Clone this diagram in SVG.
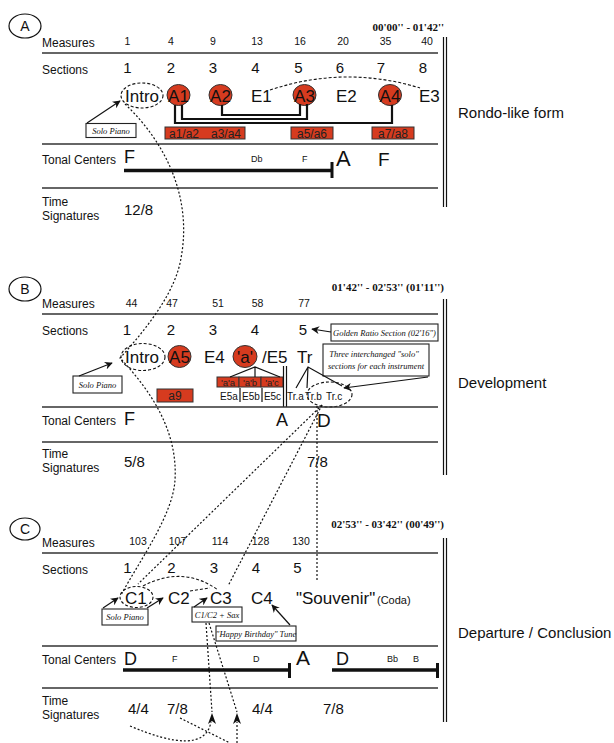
<svg xmlns="http://www.w3.org/2000/svg" width="614" height="743" viewBox="0 0 614 743">
<defs>
<style>
text{font-family:"Liberation Sans",Arial,sans-serif;fill:#111}
.lbl{font-size:12px}
.num{font-size:10.5px;text-anchor:middle}
.sec{font-size:15px;text-anchor:middle}
.row{font-size:17px}
.rowc{font-size:17px;text-anchor:middle}
.ts{font-size:15px}
.sm{font-size:9px}
.tag{font-size:15px}
.time{font-family:"Liberation Serif",serif;font-weight:bold;font-size:11px;text-anchor:end}
.note{font-family:"Liberation Serif",serif;font-style:italic;font-size:8.5px;text-anchor:middle}
.sep{stroke:#333;stroke-width:1.5}
.vd{stroke:#111;stroke-width:1.2}
.circ{fill:#fff;stroke:#111;stroke-width:1.2}
.red{fill:#d63b1f;stroke:#333;stroke-width:1}
.box{fill:#fff;stroke:#222;stroke-width:1.1}
.dot{fill:none;stroke:#111;stroke-width:1.2;stroke-dasharray:2 2}
.dash{fill:none;stroke:#111;stroke-width:1.1;stroke-dasharray:3 2}
.brk{fill:none;stroke:#111;stroke-width:2.2}
.bar{stroke:#111;stroke-width:3.5}
.cap{stroke:#111;stroke-width:3}
.thin{fill:none;stroke:#111;stroke-width:1.2}
.arr{fill:none;stroke:#111;stroke-width:1.2;marker-end:url(#ah)}
.rt{font-size:12px;text-anchor:middle;fill:#222}
.rts{font-size:9.5px;text-anchor:middle;fill:#222}
</style>
<marker id="ah" viewBox="0 0 10 10" refX="9" refY="5" markerWidth="8" markerHeight="8" markerUnits="userSpaceOnUse" orient="auto">
<path d="M0,0 L10,5 L0,10 L3,5 z" fill="#111"/>
</marker>
</defs>
<rect width="614" height="743" fill="#fff"/>

<!-- ============ SECTION A ============ -->
<g id="sectionA">
<g id="A-label"><ellipse cx="25" cy="26" rx="16" ry="12" class="circ"/><text x="25" y="31" font-size="14" text-anchor="middle">A</text></g>
<text class="time" x="444" y="31">00'00'' - 01'42''</text>
<g id="A-measures">
<text class="lbl" x="42" y="47">Measures</text>
<text class="num" x="127.5" y="45">1</text><text class="num" x="171" y="45">4</text><text class="num" x="213" y="45">9</text><text class="num" x="257" y="45">13</text><text class="num" x="300" y="45">16</text><text class="num" x="343" y="45">20</text><text class="num" x="385.5" y="45">35</text><text class="num" x="427" y="45">40</text>
</g>
<line class="sep" x1="42" y1="53" x2="438" y2="53"/>
<g id="A-sections">
<text class="lbl" x="42" y="74">Sections</text>
<text class="sec" x="127.5" y="73">1</text><text class="sec" x="171" y="73">2</text><text class="sec" x="213" y="73">3</text><text class="sec" x="255.5" y="73">4</text><text class="sec" x="298.5" y="73">5</text><text class="sec" x="340" y="73">6</text><text class="sec" x="381" y="73">7</text><text class="sec" x="423" y="73">8</text>
</g>
<g id="A-intro"><ellipse cx="142" cy="95.5" rx="21" ry="12.5" class="dash"/><text class="row" x="125" y="102">Intro</text></g>
<g id="A-A1"><ellipse cx="178.5" cy="95" rx="11.5" ry="10.5" class="red"/><text class="rowc" x="178.5" y="102">A1</text></g>
<g id="A-A2"><ellipse cx="220.5" cy="95" rx="11.5" ry="10.5" class="red"/><text class="rowc" x="220.5" y="102">A2</text></g>
<g id="A-E1"><text class="row" x="251" y="102">E1</text></g>
<g id="A-A3"><ellipse cx="304.5" cy="95" rx="11.5" ry="10.5" class="red"/><text class="rowc" x="304.5" y="102">A3</text></g>
<g id="A-E2"><text class="row" x="336" y="102">E2</text></g>
<g id="A-A4"><ellipse cx="390" cy="95" rx="11.5" ry="10.5" class="red"/><text class="rowc" x="390" y="102">A4</text></g>
<g id="A-E3"><text class="row" x="419" y="102">E3</text></g>
<g id="A-a1a4"><rect class="red" x="165" y="127" width="80" height="12"/><text class="rt" x="184" y="137.5">a1/a2</text><text class="rt" x="226" y="137.5">a3/a4</text></g>
<g id="A-a5a6"><rect class="red" x="291" y="127" width="42" height="12"/><text class="rt" x="312" y="137.5">a5/a6</text></g>
<g id="A-a7a8"><rect class="red" x="372" y="127" width="42" height="12"/><text class="rt" x="393" y="137.5">a7/a8</text></g>
<g id="A-solo"><rect class="box" x="86" y="123.5" width="50" height="14"/><text class="note" x="111" y="133.5">Solo Piano</text></g>
<line class="sep" x1="42" y1="144" x2="438" y2="144"/>
<g id="A-tonal">
<text class="lbl" x="42" y="164">Tonal Centers</text>
<text x="124" y="163" font-size="18">F</text>
<text class="sm" x="251" y="162">Db</text>
<text class="sm" x="302" y="162">F</text>
<text x="336" y="166" font-size="22">A</text>
<text x="378" y="166" font-size="19">F</text>
<line class="bar" x1="124" y1="170.5" x2="333" y2="170.5"/>
<line class="cap" x1="332" y1="162" x2="332" y2="178"/>
</g>
<line class="sep" x1="42" y1="188" x2="438" y2="188"/>
<g id="A-time">
<text class="lbl" x="42" y="206">Time</text><text class="lbl" x="42" y="220">Signatures</text>
<text class="ts" x="124" y="215">12/8</text>
</g>
<line class="vd" x1="443.5" y1="37" x2="443.5" y2="207"/><line class="vd" x1="446.5" y1="37" x2="446.5" y2="207"/>
<text class="tag" x="458" y="118">Rondo-like form</text>
</g>

<!-- ============ SECTION B ============ -->
<g id="sectionB">
<g id="B-label"><ellipse cx="25" cy="289" rx="16" ry="12" class="circ"/><text x="25" y="294" font-size="14" text-anchor="middle">B</text></g>
<text class="time" x="444" y="291">01'42'' - 02'53'' (01'11'')</text>
<g id="B-measures">
<text class="lbl" x="42" y="308">Measures</text>
<text class="num" x="131.5" y="307">44</text><text class="num" x="172" y="307">47</text><text class="num" x="218" y="307">51</text><text class="num" x="257.5" y="307">58</text><text class="num" x="304" y="307">77</text>
</g>
<line class="sep" x1="42" y1="314" x2="438" y2="314"/>
<g id="B-sections">
<text class="lbl" x="42" y="335">Sections</text>
<text class="sec" x="127" y="335">1</text><text class="sec" x="171" y="335">2</text><text class="sec" x="213" y="335">3</text><text class="sec" x="255" y="335">4</text><text class="sec" x="303" y="335">5</text>
</g>
<g id="B-intro"><ellipse cx="143" cy="357" rx="22" ry="13.5" class="dash"/><text class="row" x="125" y="363">Intro</text></g>
<g id="B-A5"><ellipse cx="179.5" cy="356.5" rx="11.5" ry="11" class="red"/><text class="rowc" x="179.5" y="363">A5</text></g>
<g id="B-E4"><text class="row" x="204" y="363">E4</text></g>
<g id="B-a"><ellipse cx="245" cy="356.5" rx="12" ry="11" class="red"/><text class="rowc" x="245" y="363">'a'</text></g>
<g id="B-E5"><text class="row" x="262" y="363">/E5</text></g>
<g id="B-Tr"><text class="row" x="297" y="363">Tr</text></g>
<g id="B-aboxes">
<rect class="red" x="217" y="377" width="22" height="10"/><rect class="red" x="239" y="377" width="22" height="10"/><rect class="red" x="261" y="377" width="22" height="10"/>
<text class="rts" x="228" y="385.5">'a'a</text><text class="rts" x="250" y="385.5">'a'b</text><text class="rts" x="272" y="385.5">'a'c</text>
</g>
<g id="B-E5abc">
<text x="229" y="400" font-size="10" text-anchor="middle">E5a</text><text x="251" y="400" font-size="10" text-anchor="middle">E5b</text><text x="272.5" y="400" font-size="10" text-anchor="middle">E5c</text>
<line class="thin" x1="240" y1="388" x2="240" y2="402"/><line class="thin" x1="262" y1="388" x2="262" y2="402"/>
</g>
<line class="vd" x1="283.5" y1="366" x2="283.5" y2="407"/><line class="vd" x1="286.5" y1="366" x2="286.5" y2="407"/>
<g id="B-Trabc">
<text x="287" y="400" font-size="10">Tr.a</text><text x="305" y="400" font-size="10">Tr.b</text><text x="326" y="400" font-size="10">Tr.c</text>
<ellipse cx="329.5" cy="394.5" rx="22.5" ry="12.5" class="dash"/>
</g>
<g id="B-a9"><rect class="red" x="157" y="389" width="36" height="13"/><text class="rt" x="175" y="399.5">a9</text></g>
<g id="B-solo"><rect class="box" x="73" y="376" width="49" height="17"/><text class="note" x="97.5" y="387.5">Solo Piano</text></g>
<g id="B-golden"><rect class="box" x="331" y="324" width="107" height="17"/><text class="note" x="384.5" y="335.5">Golden Ratio Section (02'16")</text></g>
<g id="B-three"><rect class="box" x="323" y="344" width="106" height="32"/><text class="note" x="374" y="357">Three interchanged "solo"</text><text class="note" x="376" y="369">sections for each instrument</text></g>
<line class="sep" x1="42" y1="407" x2="438" y2="407"/>
<g id="B-tonal">
<text class="lbl" x="42" y="425">Tonal Centers</text>
<text x="124" y="425" font-size="18">F</text>
<text x="276" y="426" font-size="18">A</text>
<text x="317" y="427" font-size="19">D</text>
</g>
<line class="sep" x1="42" y1="442" x2="438" y2="442"/>
<g id="B-time">
<text class="lbl" x="42" y="458">Time</text><text class="lbl" x="42" y="472">Signatures</text>
<text class="ts" x="124" y="467">5/8</text><text class="ts" x="307" y="467">7/8</text>
</g>
<line class="vd" x1="443.5" y1="299" x2="443.5" y2="475"/><line class="vd" x1="446.5" y1="299" x2="446.5" y2="475"/>
<text class="tag" x="458" y="388">Development</text>
</g>

<!-- ============ SECTION C ============ -->
<g id="sectionC">
<g id="C-label"><ellipse cx="25" cy="529" rx="15" ry="11" class="circ"/><text x="25" y="534" font-size="14" text-anchor="middle">C</text></g>
<text class="time" x="444" y="528">02'53'' - 03'42'' (00'49'')</text>
<g id="C-measures">
<text class="lbl" x="42" y="547">Measures</text>
<text class="num" x="138" y="545">103</text><text class="num" x="177.5" y="545">107</text><text class="num" x="220" y="545">114</text><text class="num" x="260.5" y="545">128</text><text class="num" x="301" y="545">130</text>
</g>
<line class="sep" x1="42" y1="553" x2="438" y2="553"/>
<g id="C-sections">
<text class="lbl" x="42" y="574">Sections</text>
<text class="sec" x="127.5" y="573">1</text><text class="sec" x="171.5" y="573">2</text><text class="sec" x="214" y="573">3</text><text class="sec" x="256" y="573">4</text><text class="sec" x="297.5" y="573">5</text>
</g>
<g id="C-C1"><ellipse cx="136.5" cy="597" rx="16.5" ry="10.5" class="dash"/><text class="row" x="125" y="604">C1</text></g>
<g id="C-C2"><text class="row" x="168" y="604">C2</text></g>
<g id="C-C3"><text class="row" x="210" y="604">C3</text></g>
<g id="C-C4"><text class="row" x="251" y="604">C4</text></g>
<g id="C-coda"><text class="row" x="296" y="604">"Souvenir"</text><text x="377" y="604" font-size="11">(Coda)</text></g>
<g id="C-solo"><rect class="box" x="102" y="609" width="46" height="16"/><text class="note" x="125" y="620">Solo Piano</text></g>
<g id="C-sax"><rect class="box" x="192" y="607" width="50" height="15"/><text class="note" x="217" y="618">C1/C2 + Sax</text></g>
<g id="C-happy"><rect class="box" x="216" y="626" width="80" height="15"/><text class="note" x="256" y="636.5">"Happy Birthday" Tune</text></g>
<line class="sep" x1="42" y1="646" x2="438" y2="646"/>
<g id="C-tonal">
<text class="lbl" x="42" y="664">Tonal Centers</text>
<text x="124" y="665" font-size="18">D</text>
<text class="sm" x="172" y="662">F</text>
<text class="sm" x="253" y="662">D</text>
<text x="296" y="665" font-size="21">A</text>
<text x="336" y="665" font-size="18">D</text>
<text class="sm" x="387" y="662">Bb</text>
<text class="sm" x="413" y="662">B</text>
<line class="bar" x1="123" y1="670" x2="290" y2="670"/>
<line class="cap" x1="289.5" y1="663" x2="289.5" y2="678"/>
<line class="bar" x1="332" y1="670" x2="439" y2="670"/>
<line class="cap" x1="437.5" y1="663" x2="437.5" y2="678"/>
</g>
<line class="sep" x1="42" y1="688" x2="438" y2="688"/>
<g id="C-time">
<text class="lbl" x="42" y="705">Time</text><text class="lbl" x="42" y="719">Signatures</text>
<text class="ts" x="128" y="714">4/4</text><text class="ts" x="167" y="714">7/8</text><text class="ts" x="252" y="714">4/4</text><text class="ts" x="323" y="714">7/8</text>
</g>
<line class="vd" x1="443.5" y1="538" x2="443.5" y2="722"/><line class="vd" x1="446.5" y1="538" x2="446.5" y2="722"/>
<text class="tag" x="458" y="638">Departure / Conclusion</text>
</g>

<!-- ============ CONNECTORS ============ -->
<g id="connectors">
<!-- A brackets -->
<path class="brk" d="M222,105 V115 H300 V104"/>
<path class="brk" d="M182,105 V119 H307 V104"/>
<path class="brk" d="M175,105 V123 H392 V105"/>
<!-- A dashed E1 to E3 -->
<path class="dash" d="M270,90 Q345,65 420,88"/>
<!-- Intro chain -->
<path class="dot" d="M125,104 C168,145 192,200 181,258 C176,290 150,325 120,358 C150,390 178,430 175,480 C173,515 140,560 121,595"/>
<!-- Tr links down to C -->
<path class="dot" d="M322,405 L138,584"/>
<path class="dot" d="M322,405 L228,586"/>
<path class="dot" d="M317,406 V582"/>
<!-- C dashed links -->
<path class="dash" d="M143,586 Q183,565 218,590"/>
<path class="dash" d="M190,591 L210,588"/>
<!-- bottom dotted -->
<path class="dot" d="M206,623 L212,712"/>
<path class="dot" d="M209,623 L237,712"/>
<path class="dot" d="M130,726 C175,745 206,748 211,722"/>
<path class="dot" d="M180,718 L230,743"/>
<path class="dot" d="M237,743 V722"/>
<path d="M212,713 L208,724 L212,721 L216,724 Z" fill="#111"/>
<path d="M237,713 L233,724 L237,721 L241,724 Z" fill="#111"/>
<!-- annotation arrows -->
<line class="arr" x1="87" y1="123" x2="120" y2="101"/>
<line class="arr" x1="79" y1="376" x2="112" y2="363"/>
<line class="arr" x1="331" y1="332" x2="312" y2="329"/>
<line class="arr" x1="428" y1="377" x2="344" y2="388"/>
<line class="arr" x1="103" y1="608" x2="118" y2="598"/>
<line class="arr" x1="147" y1="608" x2="163" y2="598"/>
<line class="arr" x1="194" y1="607" x2="207" y2="598"/>
<line class="arr" x1="290" y1="625" x2="272" y2="605"/>
<!-- B trees -->
<path class="thin" d="M230,377 L255,367 L280,377 M255,367 V377"/>
<path class="thin" d="M296,388 L308,367 L342,386 M308,367 L307,388"/>
</g>
</svg>
